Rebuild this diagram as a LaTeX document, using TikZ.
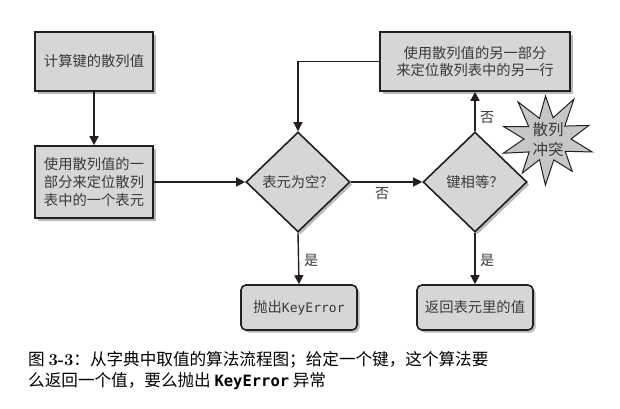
\documentclass[tikz,border=0pt]{standalone}
\usepackage{fontspec}
\setmainfont{Noto Sans CJK SC}
\setmonofont{DejaVu Sans Mono}
\newfontfamily\capfont{Noto Sans CJK SC}
\newfontfamily\capmono{DejaVu Sans Mono}
\newfontfamily\lmfont{Latin Modern Roman}
\usetikzlibrary{shapes.geometric,arrows.meta,shadows}
\definecolor{boxfill}{HTML}{D6D6D6}
\definecolor{linec}{HTML}{231F20}
\definecolor{txtc}{HTML}{3A3A3A}
\tikzset{
  boxst/.style={draw=linec,line width=1.6pt,fill=boxfill,text=txtc,font=\fontsize{14.3}{17.6}\selectfont,
    align=center,inner sep=0pt,drop shadow={shadow xshift=2.5pt,shadow yshift=-2.5pt,fill=black!45,opacity=0.6}},
  endst/.style={boxst,rounded corners=5pt},
  decst/.style={diamond,draw=linec,line width=1.6pt,fill=boxfill,text=txtc,font=\fontsize{14.3}{17}\selectfont,
    inner sep=0pt,minimum width=104pt,minimum height=100pt,aspect=1.04,
    drop shadow={shadow xshift=2.5pt,shadow yshift=-2.5pt,fill=black!45,opacity=0.6}},
  conn/.style={draw=linec,line width=1.4pt,-{Triangle[length=9pt,width=9pt]}},
  lbl/.style={text=txtc,font=\fontsize{14}{16}\selectfont,inner sep=0pt},
  starst/.style={draw=linec,line width=1pt,fill=black!22},
  captxt/.style={anchor=west,inner sep=0pt,text=black,font=\capfont\fontsize{16.6}{19}\selectfont}
}
\begin{document}
\begin{tikzpicture}[x=1pt,y=-1pt]
\useasboundingbox (0,0) rectangle (620,408);
\fill[white] (0,0) rectangle (620,408);
% starburst (behind diamond)
\path[starst] (547,139) +(92:46) -- +(72:22) -- +(52:41) -- +(34:22) -- +(16:47) -- +(0:24)
  -- +(-18:44) -- +(-36:22) -- +(-56:48) -- +(-74:22) -- +(-92:43) -- +(-110:22)
  -- +(-128:47) -- +(-146:22) -- +(-164:45) -- +(180:23) -- +(162:46) -- +(144:22)
  -- +(126:42) -- +(110:22) -- cycle;
\node[lbl,align=center,font=\fontsize{15.5}{20}\selectfont] (st) at (548,140) {散列\\冲突};
% nodes
\node[boxst,minimum width=118pt,minimum height=59pt] (b1) at (94,61.5) {计算键的散列值};
\node[boxst,minimum width=118pt,minimum height=72pt] (b2) at (94,182) {使用散列值的一\\部分来定位散列\\表中的一个表元};
\node[decst] (d1) at (298,182) {表元为空？};
\node[decst] (d2) at (475,182) {键相等？};
\node[boxst,minimum width=190pt,minimum height=59pt] (b3) at (475,61.5) {使用散列值的另一部分\\来定位散列表中的另一行};
\node[endst,minimum width=116pt,minimum height=45pt] (ke) at (299,307.5) {抛出\texttt{\fontsize{13}{16}\selectfont KeyError}};
\node[endst,minimum width=116pt,minimum height=45pt] (rv) at (475,307.5) {返回表元里的值};
% connectors
\draw[conn] (b1.south) -- (b2.north);
\draw[conn] (b2.east) -- (d1.west);
\draw[conn] (d1.east) -- (d2.west);
\draw[conn] (d2.north) -- (b3.south);
\draw[conn] (b3.west) -| (d1.north);
\draw[conn] (d1.south) -- (ke.north);
\draw[conn] (d2.south) -- (rv.north);
% labels
\node[lbl] (n1) at (382,194) {否};
\node[lbl] (n2) at (487,118) {否};
\node[lbl] (y1) at (311,260) {是};
\node[lbl] (y2) at (487,260) {是};
% caption
\node[captxt] (c1) at (28,360) {图 {\lmfont\bfseries 3-3}：从字典中取值的算法流程图；给定一个键，这个算法要};
\node[captxt] (c2) at (28,381) {么返回一个值，要么抛出 {\capmono\bfseries\fontsize{15.5}{19}\selectfont KeyError} 异常};
\end{tikzpicture}
\end{document}
